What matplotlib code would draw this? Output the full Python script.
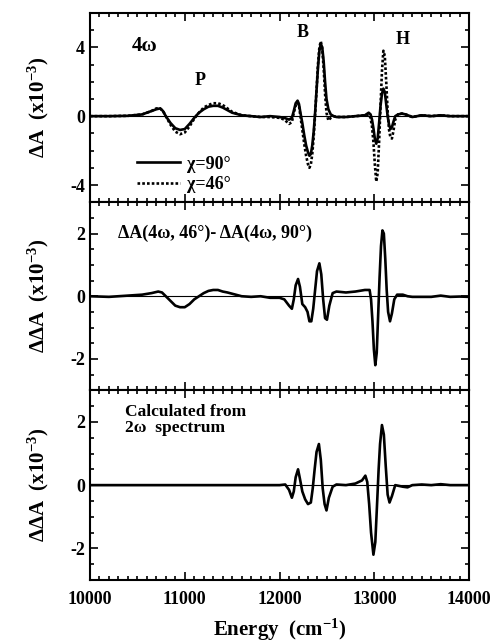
import matplotlib
matplotlib.use("Agg")
import matplotlib.pyplot as plt
from matplotlib.ticker import MultipleLocator, FixedLocator

plt.rcParams['font.family'] = ['Liberation Serif', 'DejaVu Serif']
plt.rcParams['font.weight'] = 'bold'
plt.rcParams['axes.labelweight'] = 'bold'
plt.rcParams['axes.unicode_minus'] = False
plt.rcParams['mathtext.fontset'] = 'custom'
plt.rcParams['mathtext.rm'] = 'Liberation Serif:bold'
plt.rcParams['mathtext.bf'] = 'Liberation Serif:bold'
plt.rcParams['mathtext.it'] = 'Liberation Serif:bold:italic'
plt.rcParams['mathtext.default'] = 'rm'

# ---- Top panel: 4w spectra at two angles ----
x_top = [10000, 10200, 10400, 10550, 10650, 10700, 10740, 10770, 10800, 10850,
         10900, 10950, 11000, 11050, 11100, 11150, 11200, 11250, 11300, 11350,
         11400, 11450, 11500, 11600, 11700, 11800, 11900, 12000, 12050, 12100,
         12130, 12150, 12170, 12190, 12205, 12220, 12240, 12260, 12280, 12300,
         12315, 12330, 12345, 12360, 12375, 12390, 12405, 12420, 12435, 12450,
         12465, 12480, 12495, 12515, 12540, 12570, 12600, 12700, 12800, 12900,
         12940, 12960, 12975, 12990, 13005, 13020, 13035, 13050, 13065, 13080,
         13095, 13110, 13125, 13140, 13155, 13170, 13185, 13200, 13220, 13250,
         13290, 13330, 13400, 13500, 13600, 13700, 13800, 13900, 14000]
y_90 = [0.0, 0.0, 0.02, 0.1, 0.3, 0.4, 0.45, 0.3, 0.0, -0.4,
        -0.7, -0.8, -0.75, -0.45, -0.1, 0.2, 0.4, 0.55, 0.6, 0.6,
        0.5, 0.35, 0.2, 0.05, 0.0, -0.05, 0.0, -0.05, -0.1, -0.2,
        -0.1, 0.3, 0.75, 0.9, 0.7, 0.2, -0.4, -1.1, -1.7, -2.1,
        -2.3, -2.2, -1.7, -0.9, 0.2, 1.5, 2.8, 3.8, 4.2, 4.0,
        3.2, 2.0, 1.0, 0.4, 0.1, 0.0, -0.05, -0.05, 0.0, 0.05,
        0.2, 0.1, -0.2, -0.7, -1.3, -1.6, -1.3, -0.4, 0.6, 1.3,
        1.6, 1.4, 0.7, 0.0, -0.5, -0.75, -0.65, -0.35, 0.0, 0.1,
        0.15, 0.1, -0.05, 0.05, 0.0, 0.05, 0.0, 0.0, 0.0]
y_46 = [0.0, 0.0, 0.02, 0.1, 0.3, 0.45, 0.45, 0.3, 0.0, -0.5,
        -0.9, -1.05, -0.95, -0.6, -0.15, 0.2, 0.5, 0.65, 0.75, 0.75,
        0.65, 0.45, 0.25, 0.05, 0.0, -0.05, -0.05, -0.1, -0.2, -0.45,
        -0.35, 0.2, 0.6, 0.8, 0.6, 0.0, -0.8, -1.6, -2.3, -2.8,
        -3.0, -2.8, -2.2, -1.2, 0.1, 1.5, 3.0, 4.0, 4.35, 3.9,
        2.8, 1.3, 0.2, -0.25, -0.1, 0.0, -0.05, -0.05, 0.0, 0.05,
        0.1, -0.1, -0.6, -1.5, -2.8, -3.8, -3.3, -1.5, 0.6, 2.6,
        3.8, 3.5, 2.0, 0.3, -0.8, -1.25, -1.3, -0.9, -0.2, 0.1,
        0.15, 0.1, -0.05, 0.05, 0.0, 0.05, 0.0, 0.0, 0.0]

# ---- Middle panel: difference ----
x_diff = [10000, 10200, 10400, 10550, 10650, 10720, 10760, 10800, 10850, 10900,
          10950, 11000, 11050, 11100, 11150, 11200, 11250, 11300, 11350, 11400,
          11450, 11500, 11550, 11600, 11700, 11800, 11900, 12000, 12050, 12100,
          12130, 12150, 12170, 12195, 12215, 12240, 12270, 12295, 12315, 12335,
          12355, 12375, 12395, 12420, 12440, 12460, 12480, 12500, 12525, 12560,
          12600, 12700, 12800, 12900, 12950, 12965, 12980, 12995, 13010, 13025,
          13040, 13055, 13070, 13085, 13100, 13115, 13130, 13145, 13165, 13185,
          13210, 13240, 13300, 13350, 13400, 13500, 13600, 13700, 13800, 13900,
          14000]
y_diff = [0.0, -0.02, 0.02, 0.05, 0.1, 0.15, 0.12, 0.0, -0.15, -0.3,
          -0.35, -0.35, -0.25, -0.1, 0.0, 0.1, 0.17, 0.2, 0.2, 0.15,
          0.12, 0.08, 0.04, 0.0, -0.02, 0.0, -0.05, -0.05, -0.1, -0.3,
          -0.4, -0.1, 0.35, 0.55, 0.3, -0.25, -0.35, -0.5, -0.8, -0.8,
          -0.4, 0.2, 0.8, 1.05, 0.7, -0.1, -0.7, -0.75, -0.3, 0.1,
          0.15, 0.12, 0.15, 0.2, 0.2, -0.1, -0.8, -1.7, -2.2, -1.8,
          -0.6, 0.6, 1.6, 2.1, 2.0, 1.2, 0.2, -0.5, -0.8, -0.55,
          -0.1, 0.05, 0.05, 0.0, -0.02, -0.02, -0.02, 0.02, -0.02, -0.01,
          -0.02]

# ---- Bottom panel: calculated from 2w ----
x_calc = [10000, 11000, 12000, 12060, 12100, 12130, 12150, 12170, 12195, 12215,
          12240, 12270, 12300, 12330, 12350, 12370, 12390, 12415, 12435, 12455,
          12475, 12495, 12520, 12560, 12600, 12700, 12800, 12870, 12905, 12925,
          12945, 12965, 12990, 13010, 13030, 13045, 13060, 13080, 13100, 13120,
          13140, 13160, 13185, 13220, 13300, 13350, 13400, 13500, 13600, 13700,
          13800, 14000]
y_calc = [0.0, 0.0, 0.0, 0.02, -0.15, -0.4, -0.2, 0.25, 0.5, 0.2,
          -0.2, -0.45, -0.6, -0.55, -0.1, 0.5, 1.05, 1.3, 0.8, -0.1,
          -0.6, -0.8, -0.4, -0.05, 0.02, 0.0, 0.05, 0.15, 0.3, 0.1,
          -0.6, -1.5, -2.2, -1.8, -0.5, 0.5, 1.3, 1.9, 1.6, 0.6,
          -0.3, -0.55, -0.35, 0.0, -0.05, -0.07, 0.0, 0.02, 0.0, 0.03,
          0.0, 0.0]

xlim = (10000, 14000)
xticks = [10000, 11000, 12000, 13000, 14000]

fig = plt.figure(figsize=(4.97, 6.44), dpi=100)
left, width = 0.181, 0.763
bottoms = [0.686, 0.394, 0.0994]
heights = [0.294, 0.292, 0.2946]
axes = [fig.add_axes([left, b, width, h]) for b, h in zip(bottoms, heights)]

LW = 1.9
for ax in axes:
    ax.set_xlim(*xlim)
    ax.axhline(0, color='black', lw=0.8, zorder=1)
    ax.xaxis.set_major_locator(FixedLocator(xticks))
    ax.xaxis.set_minor_locator(MultipleLocator(100))
    ax.tick_params(which='both', direction='in', top=True, right=True,
                   labelsize=13, width=1.2)
    ax.tick_params(which='major', length=6)
    ax.tick_params(which='minor', length=3)
    for s in ax.spines.values():
        s.set_linewidth(1.5)

# top
ax = axes[0]
ax.plot(x_top, y_90, color='black', lw=LW, label='χ=90°')
ax.plot(x_top, y_46, color='black', lw=LW, ls=(0, (1, 0.8)), label='χ=46°')
ax.set_ylim(-5, 6)
ax.yaxis.set_major_locator(FixedLocator([-4, 0, 4]))
ax.yaxis.set_minor_locator(MultipleLocator(1))
ax.tick_params(labelbottom=False)
ax.set_ylabel('ΔA  (x10$^{-3}$)', fontsize=15, labelpad=14)
ax.text(10440, 4.1, '4ω', fontsize=15, ha='left', va='center')
ax.text(11160, 2.1, 'P', fontsize=13, ha='center', va='center')
ax.text(12240, 4.85, 'B', fontsize=13, ha='center', va='center')
ax.text(13300, 4.45, 'H', fontsize=13, ha='center', va='center')
ax.legend(loc='lower left', bbox_to_anchor=(0.1, 0.0), frameon=False,
          fontsize=13, handlelength=2.4, handletextpad=0.4, labelspacing=0.2,
          borderaxespad=0.1)

# middle
ax = axes[1]
ax.plot(x_diff, y_diff, color='black', lw=LW)
ax.set_ylim(-3, 3)
ax.yaxis.set_major_locator(FixedLocator([-2, 0, 2]))
ax.yaxis.set_minor_locator(MultipleLocator(0.5))
ax.tick_params(labelbottom=False)
ax.set_ylabel('ΔΔA  (x10$^{-3}$)', fontsize=15, labelpad=14)
ax.text(10300, 2.0, 'ΔA(4ω, 46°)- ΔA(4ω, 90°)', fontsize=13,
        ha='left', va='center')

# bottom
ax = axes[2]
ax.plot(x_calc, y_calc, color='black', lw=LW)
ax.set_ylim(-3, 3)
ax.yaxis.set_major_locator(FixedLocator([-2, 0, 2]))
ax.yaxis.set_minor_locator(MultipleLocator(0.5))
ax.set_ylabel('ΔΔA  (x10$^{-3}$)', fontsize=15, labelpad=14)
ax.text(10370, 2.55, 'Calculated from\n2ω  spectrum', fontsize=12.5,
        ha='left', va='top', linespacing=0.95)
ax.set_xlabel('Energy  (cm$^{-1}$)', fontsize=15, labelpad=6)
ax.tick_params(axis='x', pad=8)

fig.savefig('out.png', dpi=100)
